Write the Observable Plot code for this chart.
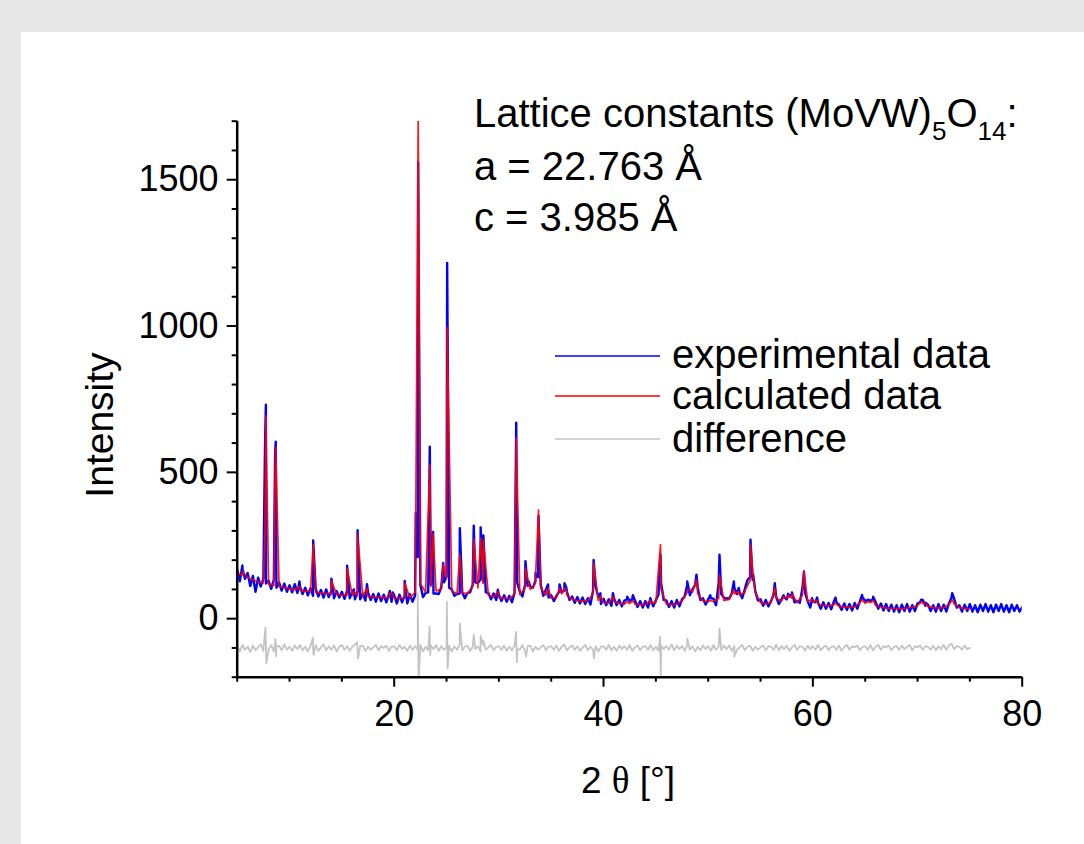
<!DOCTYPE html>
<html><head><meta charset="utf-8">
<script src="https://cdn.jsdelivr.net/npm/d3@7"></script>
<script src="https://cdn.jsdelivr.net/npm/@observablehq/plot@0.6"></script>
<style>
html,body{margin:0;padding:0;background:#e8e8e8;width:1084px;height:844px;overflow:hidden;}
#panel{position:absolute;left:21px;top:32px;width:1063px;height:812px;background:#fff;}
#chart{position:absolute;left:0;top:0;}
</style></head><body><div id="panel"></div><div id="chart"></div>
<script>
// ---- sampling grids (2θ start and step) ----
const gridStart = 5;
const expStep = 0.25, calcStep = 0.5, diffStep = 0.25;

// experimental intensity, one row per degree (5..79) at .00/.25/.50/.75, then 80
const expRows = [
[166,128,182,136],[156,112,146,92],[140,110,136,120],[130,102,134,106],[124,96,120,92],
[114,90,118,88],[110,84,106,80],[104,78,102,76],[98,72,100,74],[96,70,94,72],
[92,68,96,70],[90,66,94,66],[86,62,90,64],[84,58,86,60],[82,56,84,58],
[80,52,82,56],[78,52,84,58],[80,210,116,74],[88,90,116,86],[86,84,108,124],
[144,106,100,78],[84,86,90,70],[88,90,116,124],[122,134,126,90],[88,66,86,64],
[82,60,80,58],[78,56,88,124],[92,76,116,112],[110,106,130,142],[116,78,100,72],
[80,60,78,92],[90,96,92,64],[76,54,74,52],[72,50,70,48],[96,110,74,50],
[68,46,66,44],[70,46,64,42],[62,66,60,68],[62,40,60,38],[60,38,66,42],
[64,82,122,64],[62,40,60,38],[64,42,66,76],[116,80,100,116],[106,64,70,48],
[66,70,68,46],[122,84,72,66],[68,86,106,84],[90,70,100,132],[142,132,94,62],
[66,44,64,42],[60,82,74,50],[66,74,66,76],[84,56,60,54],[104,90,60,38],
[60,56,54,34],[56,34,54,32],[58,56,48,30],[52,30,50,28],[54,34,60,72],
[62,64,60,68],[56,34,52,28],[50,26,48,24],[46,22,48,26],[50,24,46,26],
[52,56,64,44],[48,26,46,24],[50,26,48,24],[52,72,68,38],[46,24,48,26],
[50,24,46,22],[48,26,50,24],[46,22,48,26],[50,24,46,22],[48,26,46,24],
[40]
];

// calculated intensity, one row per degree (5..74) at .0/.5, then 75
const calcRows = [
[155,150],[140,132],[126,122],[118,114],[110,106],[102,99],[97,94],[92,90],[88,86],[84,83],
[81,80],[79,78],[76,75],[74,73],[72,71],[70,70],[70,72],[90,120],[90,110],[95,100],
[140,95],[85,88],[85,110],[105,120],[80,74],[72,70],[68,85],[82,105],[100,120],[105,80],
[70,72],[85,80],[66,62],[60,62],[85,62],[55,54],[60,52],[50,52],[50,48],[48,52],
[55,100],[50,48],[50,60],[90,90],[85,60],[58,58],[70,62],[65,85],[80,90],[130,90],
[55,50],[55,70],[60,70],[70,55],[80,60],[55,50],[45,44],[48,42],[40,39],[40,55],
[52,55],[45,40],[36,35],[34,34],[36,40],[45,52],[42,38],[36,38],[48,50],[38,35],
[34]
];

// difference curve (offset), one row per degree (5..74) at .00/.25/.50/.75, then 75
const diffRows = [
[-94,-112,-90,-106],[-96,-114,-92,-108],[-98,-88,-110,-94],[-106,-90,-112,-96],[-92,-108,-88,-106],
[-96,-110,-92,-104],[-90,-108,-96,-112],[-94,-106,-90,-110],[-98,-88,-108,-94],[-106,-92,-112,-96],
[-90,-106,-94,-110],[-96,-88,-106,-94],[-92,-110,-96,-106],[-98,-90,-108,-94],[-100,-92,-110,-96],
[-94,-108,-90,-104],[-96,-110,-92,-106],[-94,-106,-90,-112],[-96,-108,-92,-104],[-90,-110,-94,-106],
[-98,-92,-112,-94],[-106,-90,-108,-96],[-92,-110,-96,-104],[-94,-112,-90,-106],[-98,-90,-108,-96],
[-94,-106,-92,-110],[-96,-108,-92,-104],[-106,-90,-110,-94],[-92,-112,-96,-106],[-98,-90,-108,-96],
[-94,-106,-92,-110],[-96,-88,-108,-98],[-92,-106,-94,-110],[-98,-90,-108,-96],[-106,-94,-112,-96],
[-94,-106,-90,-108],[-96,-110,-92,-104],[-94,-106,-90,-110],[-98,-92,-108,-96],[-94,-106,-90,-108],
[-96,-110,-92,-104],[-94,-106,-88,-108],[-92,-104,-94,-110],[-90,-106,-94,-112],[-96,-108,-92,-104],
[-94,-110,-90,-106],[-96,-108,-92,-104],[-92,-110,-94,-106],[-98,-90,-108,-96],[-92,-110,-96,-106],
[-98,-92,-108,-94],[-96,-106,-90,-108],[-94,-104,-92,-110],[-98,-90,-106,-94],[-96,-110,-92,-104],
[-94,-106,-90,-108],[-98,-92,-108,-96],[-94,-106,-92,-110],[-96,-90,-106,-94],[-98,-92,-108,-96],
[-94,-106,-90,-108],[-96,-90,-106,-94],[-98,-92,-108,-96],[-94,-106,-92,-104],[-96,-90,-108,-94],
[-98,-92,-106,-94],[-96,-106,-92,-108],[-94,-104,-90,-106],[-92,-86,-104,-94],[-96,-106,-92,-104],
[-100]
];

// reflections: 2θ position, experimental top, calculated top
const peakPos  = [5.5,7.66,7.74,8.62,8.68,10.95,12.26,14.0,15.5,16.14,16.5,17.4,19.58,19.86,21.0,22.06,22.29,23.4,23.72,24.68,25.06,26.27,27.6,28.26,28.52,29.9,31.66,32.54,32.86,33.5,33.79,34.7,35.8,36.27,36.45,39.05,39.7,40.9,42.26,42.8,44.48,45.44,48.0,48.47,48.88,50.2,51.08,51.8,52.45,52.92,53.56,54.04,54.3,56.36,57.2,57.64,58.0,59.15,59.93,60.4,62.16,64.7,65.0,65.34,65.76,70.35,70.76,73.31];
const peakExp  = [170,598,731,560,605,127,267,137,181,100,302,118,95,90,129,362,1560,588,296,190,1216,309,318,312,284,99,670,196,127,156,350,117,117,121,105,201,87,87,75,80,70,219,127,100,150,80,219,70,127,105,110,270,150,121,80,85,90,161,70,72,72,81,60,65,75,65,55,87];
const peakCalc = [161,300,693,500,585,110,252,129,173,93,288,104,87,85,121,330,1700,525,290,185,994,220,271,276,268,93,617,173,120,138,371,104,104,104,95,190,75,75,58,62,62,253,98,98,133,62,150,65,99,93,99,253,140,104,75,80,85,161,65,62,53,65,55,58,62,58,52,64];

// difference spikes: 2θ position, value
const diffSpikePos = [7.70,7.78,8.66,8.72,12.24,12.30,16.46,16.54,22.25,22.33,23.38,23.45,25.03,25.10,26.27,27.6,28.26,28.52,31.64,31.72,32.6,39.08,45.40,45.47,48.0,51.08,52.5];
const diffSpikeVal = [-30,-153,-70,-128,-65,-124,-80,-136,87,-215,-27,-124,58,-170,-16,-55,-60,-75,-45,-148,-130,-136,-62,-192,-68,-33,-130];

// axes
const xDomain = [5, 80], yDomain = [-200, 1700];
const xMajor = [20,40,60,80];
const xMinor = [5,10,15,25,30,35,45,50,55,65,70,75];
const yMajor = [0,500,1000,1500];
const yMinor = [-200,-100,100,200,300,400,600,700,800,900,1100,1200,1300,1400,1600,1700];

// texts
const xLabelParts = ["2 ", "θ", " [°]"];
const yLabel = "Intensity";
const annTitle = ["Lattice constants (MoVW)", "5", "O", "14", ":"];
const annLines = ["a = 22.763 Å", "c = 3.985 Å"];
const legendLabels = ["experimental data", "calculated data", "difference"];
const colors = ["#0000ff", "#ff0000", "#c4c4c4"];

// ---- build point tables ----
function fromGrid(rows, step, extraX, extraY) {
  const pts = rows.flat().map((v, i) => ({x: gridStart + i * step, y: v}));
  extraX.forEach((p, i) => pts.push({x: p, y: extraY[i]}));
  return pts.sort((a, b) => a.x - b.x);
}
const expPts = fromGrid(expRows, expStep, peakPos, peakExp);
const calcPts = fromGrid(calcRows, calcStep, peakPos, peakCalc);
const diffPts = fromGrid(diffRows, diffStep, diffSpikePos, diffSpikeVal);

const FONT = "'Liberation Sans', Arial, Helvetica, sans-serif";

const chart = Plot.plot({
  width: 1084, height: 844,
  marginLeft: 236.7, marginRight: 62.3, marginTop: 120.7, marginBottom: 167.3,
  x: {domain: xDomain},
  y: {domain: yDomain},
  style: {background: "transparent", fontFamily: FONT, color: "#000", overflow: "visible"},
  marks: [
    Plot.line(diffPts, {x: "x", y: "y", stroke: colors[2], strokeWidth: 1.8, clip: true}),
    Plot.line(expPts, {x: "x", y: "y", stroke: colors[0], strokeWidth: 2.4, clip: true}),
    Plot.line(calcPts, {x: "x", y: "y", stroke: colors[1], strokeWidth: 1.7, strokeOpacity: 0.9, clip: true}),
    Plot.ruleY([yDomain[0]], {stroke: "#000", strokeWidth: 2.5}),
    Plot.ruleX([xDomain[0]], {stroke: "#000", strokeWidth: 2.5}),
    Plot.axisX(xMajor, {tickSize: 10, tickPadding: 13, fontSize: 36, strokeWidth: 2, label: null, tickFormat: "d"}),
    Plot.axisX(xMinor, {tickSize: 5, strokeWidth: 2, text: null, label: null}),
    Plot.axisY(yMajor, {tickSize: 10, tickPadding: 8.7, fontSize: 36, strokeWidth: 2, label: null, tickFormat: "d"}),
    Plot.axisY(yMinor, {tickSize: 5, strokeWidth: 2, text: null, label: null})
  ]
});
document.getElementById("chart").appendChild(chart);

// ---- labels, annotation and legend ----
const svg = d3.select(chart);
const g = svg.append("g").attr("font-family", FONT).attr("fill", "#000");

const xl = g.append("text").attr("x", 628).attr("y", 793).attr("text-anchor", "middle").attr("font-size", 37);
xl.append("tspan").text(xLabelParts[0]);
xl.append("tspan").attr("font-family", "'Liberation Serif', 'DejaVu Serif', serif").text(xLabelParts[1]);
xl.append("tspan").text(xLabelParts[2]);

g.append("text").attr("transform", "translate(113,425) rotate(-90)").attr("text-anchor", "middle")
  .attr("font-size", 39).text(yLabel);

const t1 = g.append("text").attr("x", 474).attr("y", 127).attr("text-anchor", "start").attr("font-size", 40);
t1.append("tspan").text(annTitle[0]);
t1.append("tspan").attr("font-size", 26).attr("dy", 13).text(annTitle[1]);
t1.append("tspan").attr("dy", -13).text(annTitle[2]);
t1.append("tspan").attr("font-size", 26).attr("dy", 13).text(annTitle[3]);
t1.append("tspan").attr("dy", -13).text(annTitle[4]);
annLines.forEach((s, i) => {
  g.append("text").attr("x", 474).attr("y", 180 + i * 51).attr("text-anchor", "start").attr("font-size", 40).text(s);
});

const legY = [356, 396, 439];
const legTextY = [368, 409, 452];
legendLabels.forEach((s, i) => {
  g.append("line").attr("x1", 555).attr("x2", 660).attr("y1", legY[i]).attr("y2", legY[i])
    .attr("stroke", colors[i]).attr("stroke-width", 1.4);
  g.append("text").attr("x", 672).attr("y", legTextY[i]).attr("text-anchor", "start").attr("font-size", 40).text(s);
});
</script></body></html>
